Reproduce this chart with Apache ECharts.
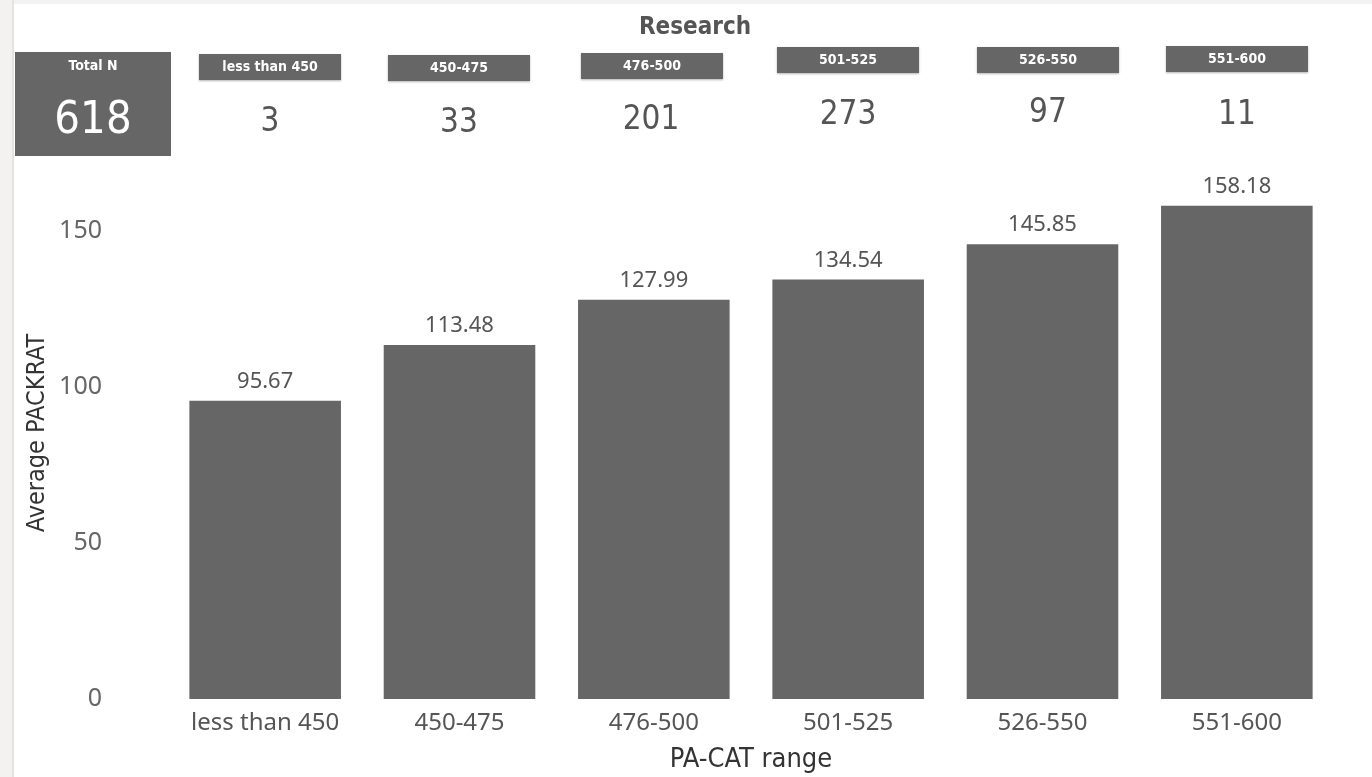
<!DOCTYPE html>
<html><head><meta charset="utf-8">
<script src="https://cdn.jsdelivr.net/npm/echarts@6/dist/echarts.min.js"></script>
<style>html,body{margin:0;padding:0;background:#fff;}#c{width:1372px;height:777px;}</style>
</head><body><div id="c"></div>
<script>
const categories = ['less than 450','450-475','476-500','501-525','526-550','551-600'];
const avgPackrat = [95.67,113.48,127.99,134.54,145.85,158.18];
const counts = [3,33,201,273,97,11];
const totalN = 618;
const yTicks = [0,50,100,150];

const chart = echarts.init(document.getElementById('c'), null, {renderer:'canvas'});
const cond = '"DejaVu Sans Condensed","DejaVu Sans",sans-serif';
const sans = '"Noto Sans","Open Sans",sans-serif';

// header card layout (positions only)
const cardBoxes = [
  {x:199,y:54},{x:388,y:55},{x:581,y:53},{x:777,y:47},{x:977,y:47},{x:1166,y:46}
];
const numPos = [{x:270,y:122},{x:459,y:123},{x:651,y:120},{x:848,y:115},{x:1048,y:113},{x:1237,y:115}];

const graphics = [
  {type:'rect',shape:{x:0,y:0,width:13,height:777},style:{fill:'#f3f2f1'},silent:true},
  {type:'rect',shape:{x:12,y:0,width:2,height:777},style:{fill:'#e4e3e1'},silent:true},
  {type:'rect',shape:{x:14,y:0,width:1358,height:4},style:{fill:'#f2f2f2'},silent:true},
  {type:'text',style:{text:'Research',x:695,y:28,align:'center',verticalAlign:'middle',font:'bold 24px '+cond,fill:'#555555'}},
  {type:'rect',shape:{x:15,y:52,width:156,height:104},style:{fill:'#666666'}},
  {type:'text',style:{text:'Total N',x:93,y:66,align:'center',verticalAlign:'middle',font:'bold 14px '+cond,fill:'#ffffff'}},
  {type:'text',style:{text:String(totalN),x:93,y:121,align:'center',verticalAlign:'middle',font:'45px '+cond,fill:'#ffffff'}},
  {type:'text',x:37,y:433,rotation:Math.PI/2,style:{text:'Average PACKRAT',x:0,y:0,align:'center',verticalAlign:'middle',font:'25px '+cond,fill:'#333333'}}
];
categories.forEach((c,i)=>{
  const b = cardBoxes[i];
  graphics.push({type:'rect',shape:{x:b.x,y:b.y,width:142,height:26},style:{fill:'#666666',shadowBlur:2,shadowColor:'rgba(0,0,0,0.3)',shadowOffsetY:1}});
  graphics.push({type:'text',style:{text:c,x:b.x+71,y:b.y+13,align:'center',verticalAlign:'middle',font:'bold 14px '+cond,fill:'#ffffff'}});
  graphics.push({type:'text',style:{text:String(counts[i]),x:numPos[i].x,y:numPos[i].y,align:'center',verticalAlign:'middle',font:'33px '+cond,fill:'#555555'}});
});

chart.setOption({
  animation:false,
  backgroundColor:'#ffffff',
  grid:{left:168,right:38,top:200,bottom:78,containLabel:false,outerBoundsMode:'none'},
  xAxis:{
    type:'category',data:categories,
    axisLine:{show:false},axisTick:{show:false},
    axisLabel:{color:'#555555',fontSize:24,fontFamily:sans,margin:12},
    name:'PA-CAT range',nameLocation:'middle',nameGap:47,
    nameTextStyle:{color:'#333333',fontSize:27,fontFamily:cond}
  },
  yAxis:{
    type:'value',min:0,max:160,interval:50,
    splitLine:{show:false},axisLine:{show:false},axisTick:{show:false},
    axisLabel:{color:'#666666',fontSize:25,fontFamily:sans,margin:66,align:'right',
      padding:[6,0,0,0],
      formatter:v=>yTicks.includes(v)?String(v):''}
  },
  series:[{
    type:'bar',data:avgPackrat,barCategoryGap:'22%',
    itemStyle:{color:'#666666'},
    label:{show:true,position:'top',distance:8,color:'#555555',fontSize:22,fontFamily:sans,
      formatter:p=>p.value.toFixed(2)}
  }],
  graphic:graphics
});
</script></body></html>
